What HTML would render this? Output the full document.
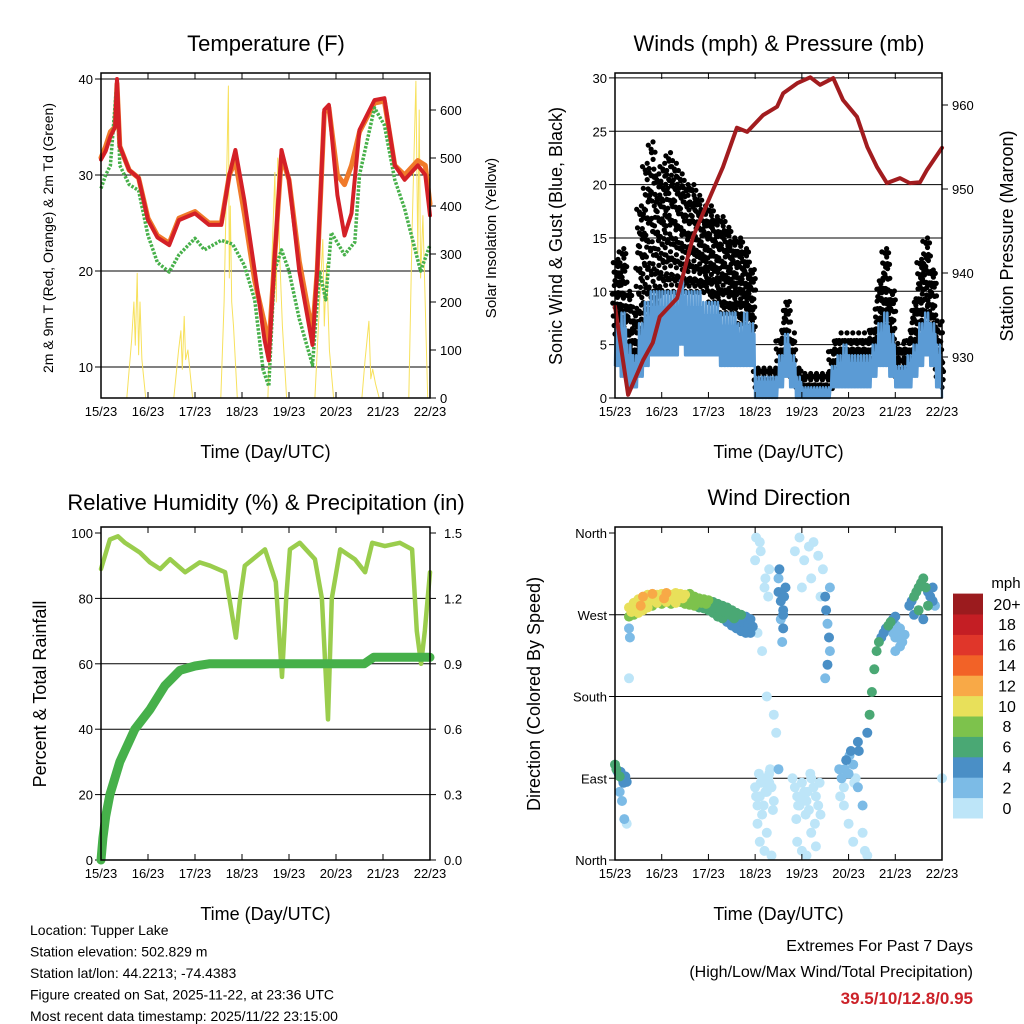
<!DOCTYPE html>
<html><head><meta charset="utf-8"><style>
body{margin:0;background:#fff;}
svg{display:block;font-family:"Liberation Sans",sans-serif;}
</style></head><body>
<svg id="chart" width="1024" height="1024" viewBox="0 0 1024 1024"></svg>
<script>
// ---------- DATA ----------
const dayLabels=["15/23","16/23","17/23","18/23","19/23","20/23","21/23","22/23"];
// Temperature (F)
const tempT=[0,.1,.2,.3,.34,.4,.6,.8,1.0,1.2,1.45,1.66,2.0,2.3,2.56,2.73,2.86,3.05,3.27,3.48,3.57,3.69,3.84,4.0,4.22,4.5,4.6,4.75,4.85,5.03,5.18,5.33,5.5,5.82,6.03,6.25,6.46,6.74,6.9,7.0];
const temp2m=[31.6,32.5,34,35,40,33,30.5,29.7,25.3,23.5,22.7,25.3,26,24.8,24.8,30,32.6,27.4,20,12.8,10.7,21,32.6,29.5,20,12.3,20,36.8,37.3,27.9,23.7,26,34.7,37.8,38,31,29.5,31,30,25.8];
const temp9m=[31.8,33,34.5,35,39.5,33,30.5,29.7,25.5,23.7,22.9,25.5,26.2,25,25,30,31.5,26,19,14.5,12,21,32,29.5,21,13.5,20,36.5,37,30,29,31,34.5,37.5,37.7,31,30,31.5,31,27];
const dewT=[0,.1,.2,.34,.4,.6,.8,1.0,1.2,1.45,1.66,2.0,2.2,2.56,2.8,3.05,3.27,3.45,3.57,3.69,3.84,4.0,4.22,4.5,4.65,4.78,4.9,5.18,5.4,5.5,5.82,6.03,6.25,6.46,6.8,7.0];
const dew2m=[28.6,30,31,39.9,31,29,28.4,23.7,20.9,19.9,21.7,23.4,22.2,23.2,22.8,20.6,17,9.7,8,20,22.2,20,15,10.2,20,17,24,21.7,23,30,37,35.2,29.5,26.5,20,22.7];
const solarT=[.55,.65,.7,.73,.77,.8,.83,.87,.95, 1.55,1.65,1.7,1.73,1.77,1.8,1.85,1.95, 2.55,2.62,2.68,2.71,2.73,2.75,2.78,2.82,2.9, 3.55,3.64,3.7,3.73,3.76,3.8,3.86,3.95, 4.55,4.65,4.72,4.75,4.8,4.86,4.95, 5.55,5.62,5.7,5.74,5.78,5.84,5.92, 6.55,6.62,6.7,6.74,6.77,6.8,6.85,6.95];
const solarV=[0,120,200,110,260,90,200,80,0, 0,100,140,60,170,80,100,0, 0,200,500,650,250,400,200,150,0, 0,300,470,200,500,300,150,0, 0,200,330,150,280,100,0, 0,80,160,40,60,30,0, 0,350,660,300,600,250,380,0];
// Winds (3-hourly ranges)
const windLo=[3,2,1,1,2,3,4,4, 4,4,4,5,4,4,4,4, 4,4,3,3,3,3,3,3, 0,0,0,0,1,2,1,0, 0,0,0,0,0,1,1,1, 1,1,1,1,2,3,3,2, 1,1,1,2,3,4,3,1, 0];
const windHi=[7,8,5,4,7,9,10,10, 10,10,10,11,10,10,10,9, 9,9,8,8,8,7,8,7, 2,2,2,2,4,6,4,2, 1,1,1,1,1,3,4,5, 4,4,4,4,5,7,8,6, 3,3,4,5,7,8,7,5, 2];
const gustLo=[6,5,2,2,5,7,8,9, 10,10,10,10,10,10,10,10, 9,9,8,8,8,7,7,6, 1,1,1,1,2,3,2,1, .5,.5,.5,.5,.5,1,2,2, 2,2,2,2,3,5,6,4, 2,2,2,3,5,6,5,2, 1];
const gustHi=[13,14,10,8,18,22,24,21, 22,23,22,21,20,20,19,18, 18,17,17,16,15,15,14,12, 3,3,3,3,6,9,6,3, 2.5,2.5,2.5,2.5,2.5,5,6,6, 6,6,6,6,7,11,14,10, 5,5,6,9,13,15,12,7, 4];
const presT=[0,.28,.6,.81,.96,1.33,1.67,2.03,2.31,2.61,2.83,3.17,3.47,3.6,3.9,4.18,4.39,4.67,4.88,5.18,5.4,5.61,5.82,6.1,6.31,6.53,6.68,7.0];
const presV=[936,925.5,929.6,931.7,934.8,937,944.3,949,952.6,957.3,956.8,958.8,959.8,961.4,962.6,963.3,962.4,963.2,960.6,958.6,955,952.6,950.7,951.3,950.7,950.8,952.3,954.9];
// RH & precip
const rhT=[0,.19,.36,.51,.83,1.04,1.26,1.47,1.79,2.1,2.32,2.64,2.79,2.87,2.96,3.06,3.49,3.72,3.85,3.94,4.02,4.23,4.55,4.7,4.83,4.91,5.09,5.4,5.62,5.77,6.04,6.36,6.62,6.72,6.81,6.89,7];
const rhV=[89,98,99,97,94,91,89,92,88,91,90,88,75,68,80,90,95,85,56,80,95,97,92,80,43,80,95,92,88,97,96,97,95,70,60,70,88];
const precT=[0,.04,.1,.19,.4,.72,1.04,1.36,1.68,2.0,2.3,5.6,5.8,7];
const precV=[0,.1,.2,.3,.45,.6,.69,.8,.87,.89,.9,.9,.93,.93];
// Wind direction points
const dirT=[0,.03,.05,.08,.1,.12,.15,.18,.2,.22,.25,.1,.15,.2,.25,.3,.32,.3,
.3,.3,.4,.4,.5,.5,.6,.6,.7,.7,.8,.8,.9,.9,1.0,1.0,1.1,1.1,1.2,1.2,1.3,1.3,1.4,1.4,1.5,1.5,1.6,1.6,1.7,1.7,1.8,1.8,1.9,1.9,2.0,2.0,2.1,2.1,2.2,2.2,2.3,2.3,2.4,2.4,2.5,2.5,2.6,2.6,2.7,2.7,2.8,2.8,2.9,2.9,
.35,.45,.55,.65,.75,.85,.95,1.05,1.15,1.25,1.35,1.45,1.55,1.65,1.75,1.85,1.95,2.05,2.15,2.25,2.35,2.45,2.55,2.65,2.75,2.85,2.95,
3.0,3.05,3.1,3.15,3.2,3.25,3.3,3.35,3.4,3.05,3.1,3.15,3.2,3.25,3.3,3.35,3.0,3.1,3.2,3.3,3.05,3.15,3.25,3.4,3.45,3.5,
3.02,3.08,3.12,3.18,3.22,3.28,3.32,3.38,3.12,3.22,3.02,3.28,
3.5,3.55,3.6,3.55,3.6,3.65,3.5,3.6,3.52,3.58,3.62,
3.8,3.85,3.9,3.95,4.0,4.05,4.1,4.15,4.2,4.25,4.3,4.35,4.4,3.9,4.0,4.1,4.2,4.3,3.85,4.05,4.25,4.45,4.0,4.2,4.4,3.95,4.15,4.35,
3.88,3.98,4.08,4.18,4.28,4.38,3.92,4.12,
4.5,4.52,4.55,4.58,4.6,4.55,4.5,4.6,
4.8,4.85,4.9,4.95,5.0,5.05,5.1,5.15,5.2,4.9,5.0,5.1,5.2,5.3,5.3,5.35,5.4,4.82,4.92,5.02,5.12,5.22,
5.4,5.45,5.5,5.55,5.6,5.65,5.7,5.75,5.8,5.85,5.9,5.95,6.0,
5.9,5.95,6.0,6.05,6.1,6.15,6.2,6.0,6.1,5.92,6.02,6.12,
6.3,6.35,6.4,6.45,6.5,6.55,6.6,6.65,6.7,6.75,6.8,6.85,6.4,6.5,6.6,6.7,6.8,7.0];
const dirV=[105,100,98,95,92,97,90,85,88,92,86,75,65,45,40,255,245,200,
278,268,283,270,287,272,290,275,292,278,293,280,292,283,293,282,294,284,292,282,294,283,293,284,292,282,293,281,290,280,288,278,287,277,286,275,284,272,282,268,280,266,278,262,275,258,272,255,270,252,268,250,265,250,
273,277,280,283,285,287,288,288,289,288,289,288,287,287,285,283,282,280,278,275,273,270,266,263,261,259,257,
80,60,70,90,85,75,95,80,65,40,20,50,10,30,85,5,330,350,300,320,250,230,180,160,140,100,
70,95,85,60,75,90,100,55,340,310,355,290,
295,285,275,265,255,300,310,270,320,240,290,
90,80,70,60,85,75,65,55,90,80,70,60,50,20,10,5,30,15,340,330,350,320,300,310,290,355,345,335,
45,70,50,95,40,85,60,75,
290,275,260,245,230,215,200,300,
100,90,80,110,95,120,105,90,80,60,40,20,130,60,30,10,5,70,100,115,85,120,
140,160,185,210,230,240,245,250,255,258,262,265,268,
255,250,245,250,255,240,248,230,235,262,258,242,
280,285,290,295,300,305,310,300,295,290,285,280,270,275,265,280,300,90];
const dirS=[6,6,4,5,6,4,4,5,3,4,4,2,2,2,1,2,2,1,
10,8,10,8,10,10,12,10,10,10,12,8,10,10,10,8,12,10,10,8,10,10,10,8,10,8,8,8,8,8,8,6,8,6,8,6,6,6,6,6,6,6,6,4,6,4,6,4,6,4,4,4,4,4,
10,10,12,10,10,10,10,12,10,10,10,10,8,8,8,8,8,6,6,6,6,6,6,4,4,4,4,
0,0,1,0,0,1,0,0,0,0,0,1,0,0,0,0,0,0,1,0,0,0,0,0,1,2,
0,0,0,0,0,0,0,0,0,0,0,0,
4,4,4,2,4,4,2,4,4,2,4,
0,0,1,0,0,0,1,0,0,0,0,1,0,0,0,0,0,0,0,0,0,0,0,0,1,0,0,0,
0,0,0,0,0,0,0,0,
4,4,2,4,2,4,2,2,
2,2,0,4,2,4,2,0,2,0,0,0,4,2,0,0,0,0,2,2,0,4,
4,6,6,6,6,6,4,4,4,6,6,4,4,
2,2,2,2,3,2,2,2,2,2,2,2,
4,4,6,6,6,6,6,6,4,4,4,2,4,6,4,6,4,0];
const cbLabels=["0","2","4","6","8","10","12","14","16","18","20+"];
const cbColors=["#bde5f8","#7cbbe6","#4a8fc6","#4aa874","#7dc24c","#e8e05a","#f8a947","#f26227","#e0362a","#c41e24","#9b1b1e"];

// ---------- HELPERS ----------
const NS="http://www.w3.org/2000/svg";
const svg=document.getElementById('chart');
function mk(tag,attrs,parent){const e=document.createElementNS(NS,tag);for(const k in attrs)e.setAttribute(k,attrs[k]);(parent||svg).appendChild(e);return e;}
function txt(s,x,y,size,anchor,parent,extra){const e=mk('text',Object.assign({x:x,y:y,'font-size':size,'text-anchor':anchor||'middle',fill:'#000'},extra||{}),parent);e.textContent=s;return e;}

function panelFrame(name){
  const g=mk('g',{});
  
  
  return g;
}
function xAxis(g,x0,x1,y0,y1){
  const dx=(x1-x0)/7;
  for(let i=0;i<8;i++){
    const x=x0+i*dx;
    mk('line',{x1:x,x2:x,y1:y1,y2:y1-6,stroke:'#000','stroke-width':1},g);
    mk('line',{x1:x,x2:x,y1:y0,y2:y0+6,stroke:'#000','stroke-width':1},g);
    const t=txt(dayLabels[i],x,y1+18,13,'middle',g);
    
    
  }
  const at=txt('Time (Day/UTC)',(x0+x1)/2,y1+60,18,'middle',g);
  
  
}
function border(g,x0,x1,y0,y1){
  const r=mk('rect',{x:x0,y:y0,width:x1-x0,height:y1-y0,fill:'none',stroke:'#000','stroke-width':1.5},g);
  
  
}
function poly(g,xs,ys,fx,fy,color,w){
  let d='';for(let i=0;i<xs.length;i++){d+=(i?'L':'M')+fx(xs[i]).toFixed(1)+','+fy(ys[i]).toFixed(1);}
  return mk('path',{d:d,fill:'none',stroke:color,'stroke-width':w,'stroke-linejoin':'round','stroke-linecap':'round'},g);
}

// ---------- PANEL 1: TEMPERATURE ----------
(function(){
  const x0=101,x1=430,y0=73,y1=398;
  const g=panelFrame('temperature-panel');
  const fx=t=>x0+t*(x1-x0)/7, fy=v=>79+(40-v)*9.6, fs=v=>398-v*0.48;
  const tt=txt('Temperature (F)',266,51,22,'middle',g);
  
  
  [10,20,30,40].forEach(v=>{
    mk('line',{x1:x0,x2:x1,y1:fy(v),y2:fy(v),stroke:'#000','stroke-width':1},g);
    mk('line',{x1:x0-6,x2:x0,y1:fy(v),y2:fy(v),stroke:'#000'},g);
    const l=txt(String(v),x0-8,fy(v)+5,13,'end',g);
    
    
  });
  [0,100,200,300,400,500,600].forEach(v=>{
    mk('line',{x1:x1,x2:x1+6,y1:fs(v),y2:fs(v),stroke:'#000'},g);
    const l=txt(String(v),x1+10,fs(v)+5,13,'start',g);
    
    
  });
  const s=poly(g,solarT,solarV,fx,fs,'#f7e15c',1);
  
  
  const o=poly(g,tempT,temp9m,fx,fy,'#f07a2a',5);
  
  
  const d=poly(g,dewT,dew2m,fx,fy,'#47b04a',3.5);
  d.setAttribute('stroke-dasharray','2.5 1.5');
  d.setAttribute('stroke-linecap','butt');
  
  
  const r=poly(g,tempT,temp2m,fx,fy,'#d42027',4);
  
  
  border(g,x0,x1,y0,y1);
  xAxis(g,x0,x1,y0,y1);
  const yl=txt('2m & 9m T (Red, Orange) & 2m Td (Green)',0,0,14,'middle',g,{transform:'translate(53,238) rotate(-90)'});
  
  
  const yr=txt('Solar Insolation (Yellow)',0,0,15,'middle',g,{transform:'translate(496,238) rotate(-90)'});
  
  
})();

// ---------- PANEL 2: WINDS ----------
(function(){
  const x0=615,x1=942,y0=73,y1=398;
  const g=panelFrame('winds-panel');
  const fx=t=>x0+t*(x1-x0)/7, fy=v=>398-v*10.67, fp=p=>357-(p-930)*8.4;
  const tt=txt('Winds (mph) & Pressure (mb)',779,51,22,'middle',g);
  
  
  [0,5,10,15,20,25,30].forEach(v=>{
    if(v>0) mk('line',{x1:x0,x2:x1,y1:fy(v),y2:fy(v),stroke:'#000','stroke-width':1},g);
    mk('line',{x1:x0-6,x2:x0,y1:fy(v),y2:fy(v),stroke:'#000'},g);
    const l=txt(String(v),x0-8,fy(v)+5,13,'end',g);
    
    
  });
  [930,940,950,960].forEach(v=>{
    mk('line',{x1:x1,x2:x1+6,y1:fp(v),y2:fp(v),stroke:'#000'},g);
    const l=txt(String(v),x1+10,fp(v)+5,13,'start',g);
    
    
  });
  // gust dots
  const gg=mk('g',{fill:'#000'},g);
  
  
  const jit=[0,2.3,-1.7,1.1,-2.6,0.6,-0.9,2.0,-2.2,1.5];
  for(let i=0;i<gustLo.length;i++){
    const nc=(i==gustLo.length-1)?1:3;
    for(let c=0;c<nc;c++){
      const t=i/8+c/24;
      let k=0;
      const step=Math.max(0.45,(gustHi[i]-gustLo[i])/14);
      for(let v=gustLo[i]+((c%2)*step/2);v<=gustHi[i]+0.01;v+=step){
        const off=jit[(k*3+c*7)%10];
        const vy=jit[(k+c*3)%10]*0.12;
        mk('circle',{cx:(fx(t)+off).toFixed(1),cy:fy(v+vy).toFixed(1),r:2.6},gg);k++;
      }
    }
  }
  // wind zigzag
  let d='';
  for(let i=0;i<windLo.length;i++){
    const nc=(i==windLo.length-1)?1:8;
    for(let c=0;c<nc;c++){
      const t=i/8+c/64;
      const mid=(windLo[i]+windHi[i])/2;
      const v=(c%2==0)?windLo[i]:((c%4==1)?windHi[i]:mid+ (windHi[i]-mid)*0.5);
      d+=(d?'L':'M')+fx(t).toFixed(1)+','+fy(v).toFixed(1);
    }
  }
  const w=mk('path',{d:d,fill:'none',stroke:'#5b9bd5','stroke-width':2.5,'stroke-linejoin':'round'},g);
  
  
  const p=poly(g,presT,presV,fx,fp,'#a21c1f',4);
  
  
  border(g,x0,x1,y0,y1);
  xAxis(g,x0,x1,y0,y1);
  const yl=txt('Sonic Wind & Gust (Blue, Black)',0,0,18,'middle',g,{transform:'translate(562,236) rotate(-90)'});
  
  
  const yr=txt('Station Pressure (Maroon)',0,0,18,'middle',g,{transform:'translate(1013,236) rotate(-90)'});
  
  
})();

// ---------- PANEL 3: RH ----------
(function(){
  const x0=101,x1=430,y0=527,y1=860;
  const g=panelFrame('humidity-panel');
  const fx=t=>x0+t*(x1-x0)/7, fy=v=>860-v*3.27, fp=p=>860-p/1.5*327;
  const tt=txt('Relative Humidity (%) & Precipitation (in)',266,510,22,'middle',g);
  
  
  [0,20,40,60,80,100].forEach(v=>{
    if(v>0&&v<100) mk('line',{x1:x0,x2:x1,y1:fy(v),y2:fy(v),stroke:'#000','stroke-width':1},g);
    mk('line',{x1:x0-6,x2:x0,y1:fy(v),y2:fy(v),stroke:'#000'},g);
    const l=txt(String(v),x0-8,fy(v)+5,13,'end',g);
    
    
  });
  ["0.0","0.3","0.6","0.9","1.2","1.5"].forEach(s=>{
    const v=parseFloat(s);
    mk('line',{x1:x1,x2:x1+6,y1:fp(v),y2:fp(v),stroke:'#000'},g);
    const l=txt(s,x1+14,fp(v)+5,13,'start',g);
    
    
  });
  const r=poly(g,rhT,rhV,fx,fy,'#9acd4d',4.5);
  
  
  const p=poly(g,precT,precV,fx,fp,'#46b04a',9);
  
  
  border(g,x0,x1,y0,y1);
  xAxis(g,x0,x1,y0,y1);
  const yl=txt('Percent & Total Rainfall',0,0,18,'middle',g,{transform:'translate(46,694) rotate(-90)'});
  
  
})();

// ---------- PANEL 4: WIND DIRECTION ----------
(function(){
  const x0=615,x1=942,y0=527,y1=860;
  const g=panelFrame('wind-direction-panel');
  const fx=t=>x0+t*(x1-x0)/7, fy=d=>860-d*327/360;
  const tt=txt('Wind Direction',779,505,22,'middle',g);
  
  
  [["North",0],["East",90],["South",180],["West",270],["North",360]].forEach(a=>{
    if(a[1]>0&&a[1]<360) mk('line',{x1:x0,x2:x1,y1:fy(a[1]),y2:fy(a[1]),stroke:'#000','stroke-width':1},g);
    mk('line',{x1:x0-6,x2:x0,y1:fy(a[1]),y2:fy(a[1]),stroke:'#000'},g);
    const l=txt(a[0],x0-8,fy(a[1])+5,13,'end',g);
    
    
  });
  const pg=mk('g',{},g);
  
  
  const order=dirS.map((s,i)=>i).sort((a,b)=>dirS[a]-dirS[b]);
  order.forEach(i=>{
    const ci=Math.min(10,Math.floor(dirS[i]/2));
    mk('circle',{cx:fx(dirT[i]).toFixed(1),cy:fy(dirV[i]).toFixed(1),r:5,fill:cbColors[ci]},pg);
  });
  border(g,x0,x1,y0,y1);
  xAxis(g,x0,x1,y0,y1);
  const yl=txt('Direction (Colored By Speed)',0,0,18,'middle',g,{transform:'translate(540,694) rotate(-90)'});
  
  
  const cb=mk('g',{},g);
  
  
  const bh=20.4;
  for(let i=0;i<11;i++){
    const y=818-(i+1)*bh;
    mk('rect',{x:953,y:y.toFixed(1),width:30,height:bh+0.5,fill:cbColors[i]},cb);
    const l=txt(cbLabels[i],1007,y+bh/2+6,16,'middle',cb);
    
    
  }
  const m=txt('mph',1006,588,15,'middle',cb);
  
  
})();

// ---------- FOOTER ----------
(function(){
  const g=mk('g',{});
  
  
  ["Location: Tupper Lake","Station elevation: 502.829 m","Station lat/lon: 44.2213; -74.4383","Figure created on Sat, 2025-11-22, at 23:36 UTC","Most recent data timestamp: 2025/11/22 23:15:00"].forEach((s,i)=>{
    const t=txt(s,30,935+i*21.5,14,'start',g);
    
    
  });
  const e=mk('g',{});
  
  
  const a=txt('Extremes For Past 7 Days',973,951,16,'end',e);
  
  
  const b=txt('(High/Low/Max Wind/Total Precipitation)',973,977,16,'end',e);
  
  
  const c=txt('39.5/10/12.8/0.95',973,1004,17,'end',e,{fill:'#cc2229','font-weight':'bold'});
  
  
})();
</script>
</body></html>
